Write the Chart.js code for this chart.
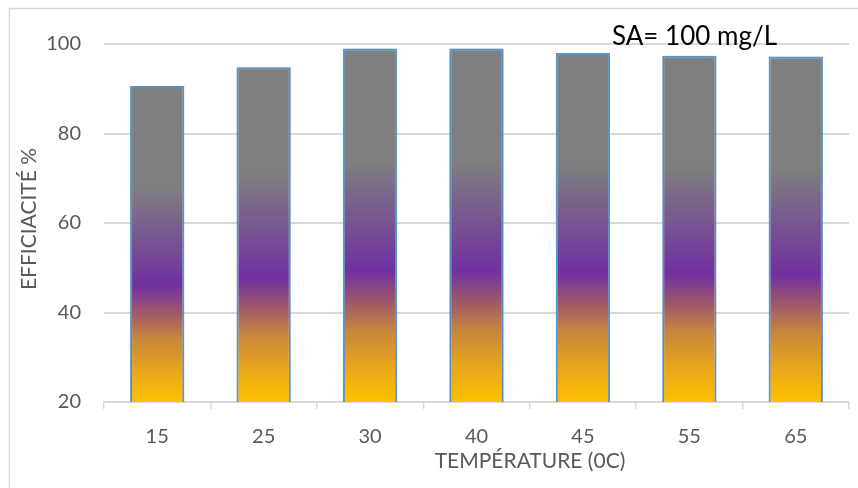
<!DOCTYPE html>
<html>
<head>
<meta charset="utf-8">
<script src="https://cdn.jsdelivr.net/npm/chart.js@4.4.1/dist/chart.umd.min.js"></script>
<style>
  html, body { margin: 0; padding: 0; background: #ffffff; }
  canvas { display: block; }
</style>
</head>
<body>
<canvas id="chart" width="858" height="488"></canvas>
<script>
// values
const temperatures = ['15', '25', '30', '40', '45', '55', '65']
const efficiency = [90.6, 94.8, 99.0, 99.0, 98.0, 97.4, 97.2]
const yTicks = [20, 40, 60, 80, 100]

const xTitle = 'TEMPÉRATURE (0C)'
const yTitle = 'EFFICIACITÉ %'
const note = 'SA= 100 mg/L'

const textGray = '#595959'
const lineGray = '#d9d9d9'
const fontFamily = 'Lato, "Open Sans", sans-serif'

// each bar gets its own yellow -> purple -> gray gradient
const barGradient = (context) => {
    const chart = context.chart
    const yScale = chart.scales.y
    if (!yScale || !chart.chartArea || !context.parsed) {
        return '#7f7f7f'
    }
    const bottom = yScale.getPixelForValue(yTicks[0])
    const top = yScale.getPixelForValue(context.parsed.y)
    if (!isFinite(bottom) || !isFinite(top)) {
        return '#7f7f7f'
    }
    const gradient = chart.ctx.createLinearGradient(0, bottom, 0, top)
    gradient.addColorStop(0, '#ffc000')
    gradient.addColorStop(0.1, '#e8a61c')
    gradient.addColorStop(0.2, '#c8863c')
    gradient.addColorStop(0.28, '#a05a68')
    gradient.addColorStop(0.37, '#7030a0')
    gradient.addColorStop(0.68, '#7f7f7f')
    gradient.addColorStop(1, '#7f7f7f')
    return gradient
}

const frame = {
    id: 'frame',
    beforeDraw(chart) {
        const ctx = chart.ctx
        ctx.save()
        ctx.fillStyle = '#ffffff'
        ctx.fillRect(0, 0, chart.width, chart.height)
        ctx.strokeStyle = lineGray
        ctx.lineWidth = 1.5
        ctx.beginPath()
        ctx.moveTo(9.5, chart.height)
        ctx.lineTo(9.5, 8.5)
        ctx.lineTo(chart.width, 8.5)
        ctx.stroke()
        ctx.restore()
    }
}

const barShadow = {
    id: 'barShadow',
    beforeDatasetsDraw(chart) {
        const ctx = chart.ctx
        ctx.save()
        ctx.shadowColor = 'rgba(0, 0, 0, 0.22)'
        ctx.shadowBlur = 5
    },
    afterDatasetsDraw(chart) {
        chart.ctx.restore()
    }
}

const labels = {
    id: 'labels',
    afterDraw(chart) {
        const ctx = chart.ctx
        ctx.save()
        ctx.fillStyle = textGray
        ctx.font = '21px ' + fontFamily
        ctx.textAlign = 'center'
        ctx.textBaseline = 'middle'
        ctx.fillText(xTitle, 530, 461)

        ctx.save()
        ctx.translate(29, 219)
        ctx.rotate(-Math.PI / 2)
        ctx.fillText(yTitle, 0, 0)
        ctx.restore()

        ctx.fillStyle = '#000000'
        ctx.font = '26px ' + fontFamily
        ctx.textAlign = 'left'
        ctx.fillText(note, 612, 37)
        ctx.restore()
    }
}

const config = {
    type: 'bar',
    data: {
        labels: temperatures,
        datasets: [{
            data: efficiency,
            backgroundColor: barGradient,
            borderColor: '#5b9bd5',
            borderWidth: 2,
            borderSkipped: false,
            categoryPercentage: 1,
            barPercentage: 0.51,
        }]
    },
    options: {
        responsive: false,
        animation: false,
        layout: {
            padding: {top: 44, right: 9, left: 0, bottom: 0}
        },
        plugins: {
            legend: {display: false},
            tooltip: {enabled: false},
        },
        scales: {
            x: {
                afterFit: (scale) => { scale.height = 86 },
                grid: {
                    offset: true,
                    drawOnChartArea: false,
                    drawTicks: true,
                    tickLength: 7,
                    color: lineGray,
                    lineWidth: 1.5,
                },
                border: {display: true, color: lineGray, width: 2},
                ticks: {
                    color: textGray,
                    font: {family: fontFamily, size: 20},
                    padding: 16,
                    maxRotation: 0,
                },
            },
            y: {
                min: yTicks[0],
                max: yTicks[yTicks.length - 1],
                afterFit: (scale) => { scale.width = 104 },
                grid: {
                    color: lineGray,
                    lineWidth: 2,
                    drawTicks: false,
                },
                border: {display: false},
                ticks: {
                    stepSize: yTicks[1] - yTicks[0],
                    color: textGray,
                    font: {family: fontFamily, size: 20},
                    padding: 23,
                },
            },
        },
    },
    plugins: [frame, barShadow, labels],
}

new Chart(document.getElementById('chart'), config)
</script>
</body>
</html>
